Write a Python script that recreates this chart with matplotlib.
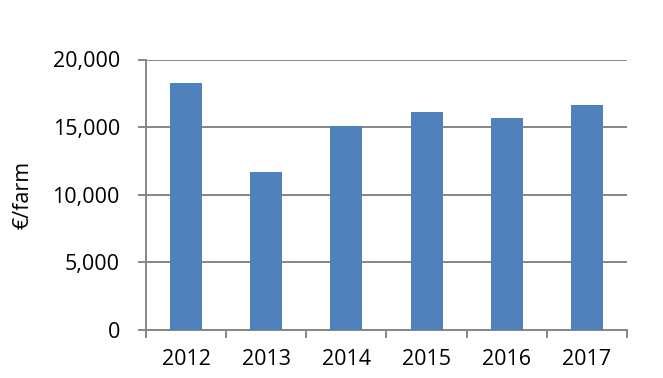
import numpy as np
import matplotlib
matplotlib.use("Agg")
import matplotlib.pyplot as plt
from matplotlib.ticker import FuncFormatter, FixedLocator

plt.rcParams['font.family'] = ['Open Sans', 'DejaVu Sans']

years = ['2012', '2013', '2014', '2015', '2016', '2017']
income = [18250, 11700, 15050, 16150, 15700, 16600]

grey = '#868686'

fig = plt.figure(figsize=(6.63, 3.78), dpi=100)
ax = fig.add_axes([146/663, 1 - 330/378, 481/663, (330 - 59.5)/378])

x = np.arange(len(years))
ax.bar(x, income, width=0.4, color='#4F81BD', zorder=3)

ax.set_xlim(-0.5, len(years) - 0.5)
ax.set_ylim(0, 20000)
ax.set_yticks([0, 5000, 10000, 15000, 20000])
ax.yaxis.set_major_formatter(FuncFormatter(lambda v, p: f'{int(v):,}'))
ax.yaxis.grid(True, color=grey, linewidth=1.4, zorder=0)

# category boundaries carry the tick marks, labels sit in the middle
ax.xaxis.set_major_locator(FixedLocator(np.arange(len(years) + 1) - 0.5))
ax.xaxis.set_major_formatter(FuncFormatter(lambda v, p: ''))
ax.xaxis.set_minor_locator(FixedLocator(x))
ax.set_xticklabels(years, minor=True)
ax.tick_params(axis='x', which='minor', length=0, pad=14, labelsize=15.5)
ax.tick_params(axis='x', which='major', length=5.8, width=1.4, color=grey, direction='out')
ax.tick_params(axis='y', length=5.8, width=1.4, color=grey, pad=13, labelsize=15.5)

for s in ['top', 'right']:
    ax.spines[s].set_visible(False)
for s in ['left', 'bottom']:
    ax.spines[s].set_color(grey)
    ax.spines[s].set_linewidth(1.4)

ax.set_ylabel('€/farm', fontsize=15.5)
ax.yaxis.set_label_coords(-(146 - 34)/481, 0.5)

fig.savefig('out.png', dpi=100)
